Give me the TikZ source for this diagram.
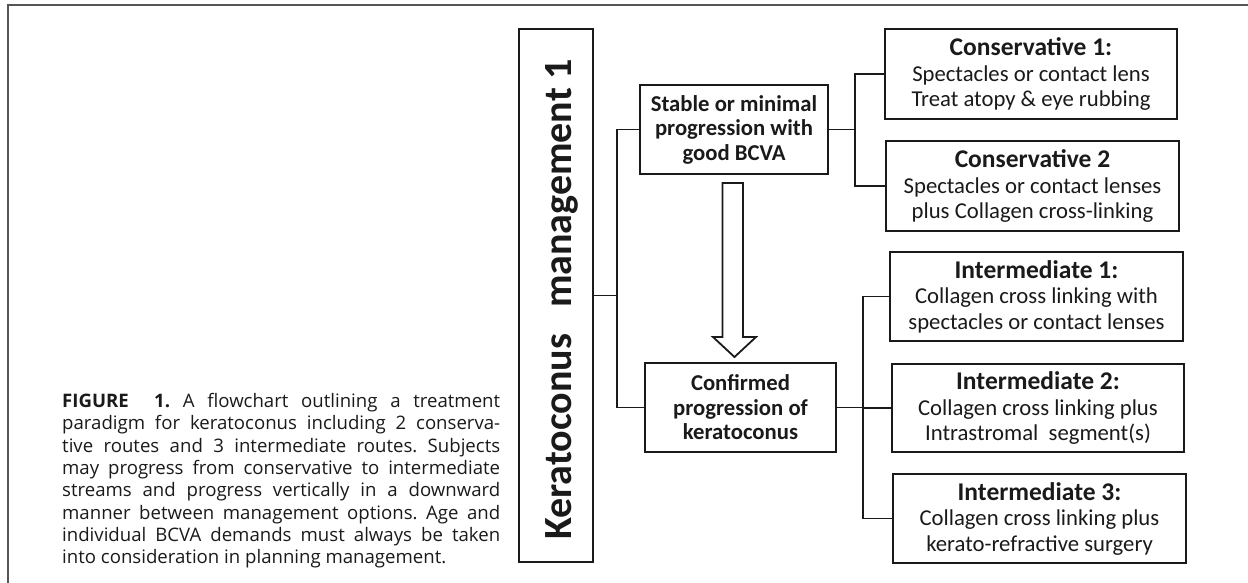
\documentclass[tikz,border=0pt]{standalone}
\usepackage{fontspec}
\setmainfont{Carlito}
\newfontfamily\capfont{Open Sans}
\usetikzlibrary{calc}
\definecolor{ink}{HTML}{1A1A1A}
\definecolor{frame}{HTML}{555555}
\tikzset{
  box/.style={draw=ink, line width=2.4pt, inner sep=0pt, align=center,
    font=\fontsize{22.7}{25.5}\selectfont, text=ink},
  boldbox/.style={box, font=\fontsize{22.7}{24.5}\selectfont\bfseries},
  conn/.style={draw=ink, line width=1.8pt},
}
\newcommand{\hd}[1]{{\fontsize{25.5}{28}\selectfont\bfseries #1}}
\begin{document}
\begin{tikzpicture}[x=1pt,y=-1pt]
\useasboundingbox (0,0) rectangle (1248,582);
\fill[white] (0,0) rectangle (1248,582);
% outer frame (top and left edges)
\draw[frame, line width=1.6pt] (8,583) -- (8,5) -- (1249,5);

% main vertical box
\node[box, minimum width=74pt, minimum height=533pt] (main) at (556,295.5) {};
\node[rotate=90, anchor=base west, inner sep=0pt, text=ink,
      font=\fontsize{40}{44}\selectfont\bfseries] (maintext) at (571,540)
      {Keratoconus\hspace*{26pt}management 1};

% middle boxes
\node[boldbox, minimum width=188pt, minimum height=89pt] (stable) at (734,129.5)
  {Stable or minimal\\progression with\\good BCVA};
\node[boldbox, minimum width=191pt, minimum height=89pt] (confirmed) at (740.5,407.5)
  {Confirmed\\progression of\\keratoconus};

% right boxes
\node[box, minimum width=292pt, minimum height=90pt] (cons1) at (1031,74)
  {\hd{Conservative 1:}\\Spectacles or contact lens\\Treat atopy \& eye rubbing};
\node[box, minimum width=293pt, minimum height=90pt] (cons2) at (1032.5,186)
  {\hd{Conservative 2}\\Spectacles or contact lenses\\plus Collagen cross-linking};
\node[box, minimum width=293pt, minimum height=89pt] (int1) at (1036.5,296.5)
  {\hd{Intermediate 1:}\\Collagen cross linking with\\spectacles or contact lenses};
\node[box, minimum width=292pt, minimum height=88pt] (int2) at (1038,408)
  {\hd{Intermediate 2:}\\Collagen cross linking plus\\Intrastromal\ \ segment(s)};
\node[box, minimum width=293pt, minimum height=89pt] (int3) at (1039.5,518.5)
  {\hd{Intermediate 3:}\\Collagen cross linking plus\\kerato-refractive surgery};

% branch coordinates
\coordinate (b1) at (617,0);
\coordinate (b2) at (855,0);
\coordinate (b3) at (863,0);

% connectors
\draw[conn] (main.east) -- (main.east -| b1);
\draw[conn] (stable.west) -- (stable.west -| b1) -- (confirmed.west -| b1) -- (confirmed.west);
\draw[conn] (stable.east) -- (stable.east -| b2);
\draw[conn] (cons1.west) -- (cons1.west -| b2) -- (cons2.west -| b2) -- (cons2.west);
\draw[conn] (confirmed.east) -- (confirmed.east -| b3);
\draw[conn] (int1.west) -- (int1.west -| b3) -- (int3.west -| b3) -- (int3.west);
\draw[conn] (int2.west) -- (int2.west -| b3);

% hollow block arrow
\draw[ink, line width=1.8pt, line join=miter, fill=white]
  (722.5,183) -- (743,183) -- (743,337) -- (756,337) -- (734.5,357)
  -- (713,337) -- (722.5,337) -- cycle;

% caption
\node[anchor=base west, inner sep=0pt, text width=438pt, align=justify, text=ink,
      font=\capfont\fontsize{18.6}{22.3}\selectfont\frenchspacing] (caption) at (62,407.5)
 {\textbf{FIGURE\ \ 1.} A flowchart outlining a treatment\linebreak
  paradigm for keratoconus including 2 conserva-\linebreak
  tive routes and 3 intermediate routes. Subjects\linebreak
  may progress from conservative to intermediate\linebreak
  streams and progress vertically in a downward\linebreak
  manner between management options. Age and\linebreak
  individual BCVA demands must always be taken\linebreak
  into consideration in planning management.};
\end{tikzpicture}
\end{document}
